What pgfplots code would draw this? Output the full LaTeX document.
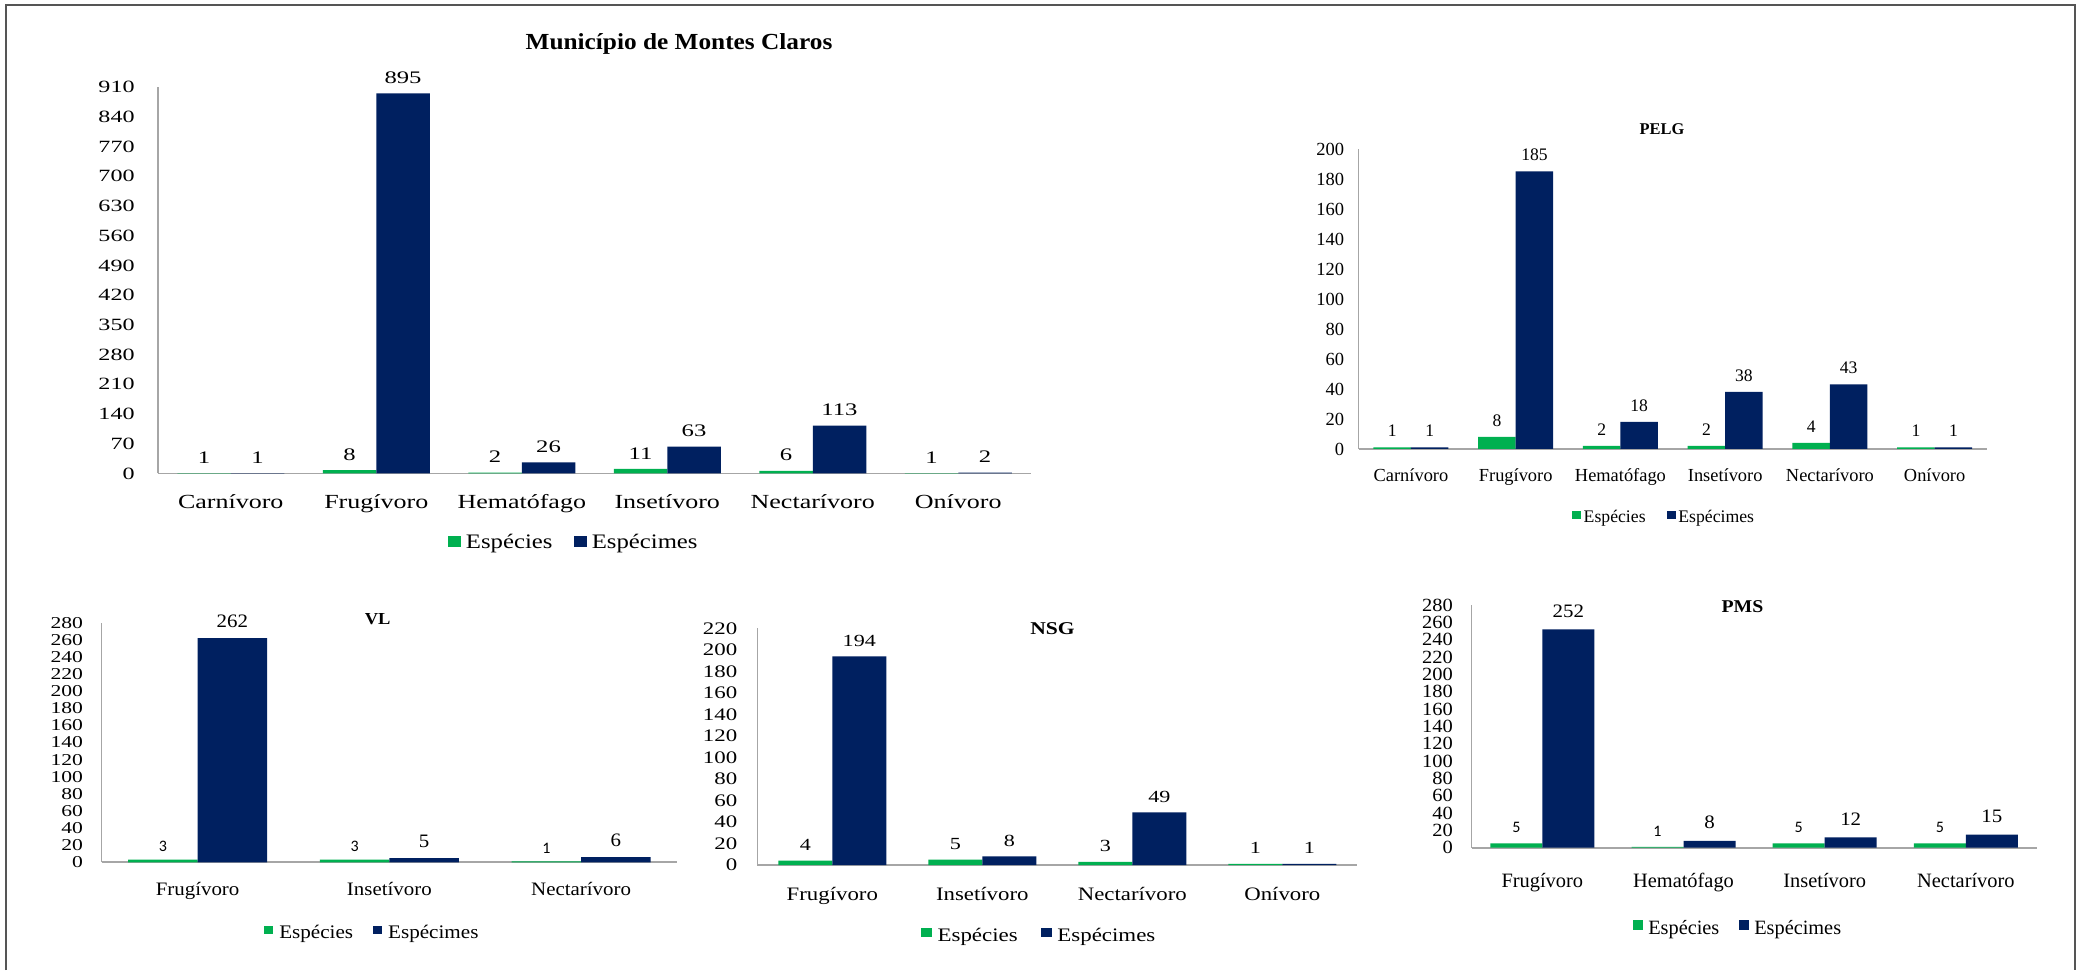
\documentclass[border=0pt]{standalone}
\usepackage{fontspec}
\setmainfont{Liberation Serif}
\newfontfamily\sB{Liberation Serif}[FakeStretch=1.1]
\newfontfamily\sC{Liberation Serif}[FakeStretch=1.2]
\newfontfamily\sD{Liberation Serif}[FakeStretch=1.3]
\newfontfamily\sE{Liberation Serif}[FakeStretch=1.4]
\newfontfamily\calib{Carlito}
\usepackage{pgfplots}
\pgfplotsset{compat=1.18}

\definecolor{cgreen}{HTML}{00B050}
\definecolor{cblue}{HTML}{002060}
\definecolor{axisgray}{HTML}{A6A6A6}
\definecolor{framegray}{HTML}{555555}

% font family + size in one go
\newcommand\fs[2]{#1\fontsize{#2}{#2}\selectfont}

\pgfplotsset{
  panel/.style={
    scale only axis, anchor=south west,
    ybar=0pt, ymin=0, enlargelimits=false, clip=false,
    axis lines*=left, axis line style={-},
    x axis line style={draw=axisgray, line width=0.9pt},
    y axis line style={draw=axisgray, line width=0.6pt},
    major tick length=0pt,
    /pgf/number format/assume math mode=true,
    yticklabel style={anchor=east, inner sep=0pt},
    xticklabel style={anchor=base, inner sep=0pt},
    nodes near coords,
    every node near coord/.append style={anchor=south, inner sep=0pt},
    legend columns=2,
    legend cell align=left,
    legend style={draw=none, fill=none, inner sep=0pt, outer sep=0pt,
      anchor=west, nodes={inner sep=0pt, text height=8pt, text depth=2pt}},
  },
  spc/.style={fill=cgreen, draw=none},
  spm/.style={fill=cblue, draw=none},
  % square legend key: bottom, width, top
  sq/.style n args={3}{legend image code/.code={\fill[##1] (0pt,#1) rectangle (#2,#3);}},
}

\begin{document}
\begin{tikzpicture}
\useasboundingbox (0,0) rectangle (1039pt,485pt);
\fill[white] (0,0) rectangle (1039pt,485pt);
\draw[framegray, line width=1pt] (2.8pt,0pt) -- (2.8pt,482.25pt) -- (1037.5pt,482.25pt) -- (1037.5pt,0pt);

% ---------------- Município de Montes Claros ----------------
\node[font=\fs\sB{11.5}\bfseries, anchor=base] at (339.5pt,460.35pt) {Município de Montes Claros};
\begin{axis}[panel, at={(79pt,248.25pt)}, width=436.5pt, height=193.25pt,
  xmin=-0.5, xmax=5.5, ymax=910, ytick={0,70,...,910},
  xtick={0,...,5},
  xticklabels={Carnívoro,Frugívoro,Hematófago,Insetívoro,Nectarívoro,Onívoro},
  bar width=26.75pt,
  yticklabel style={font=\fs\sE{8.6}, xshift=-11.5pt},
  xticklabel style={font=\fs\sD{10}, yshift=-17.5pt},
  every node near coord/.append style={font=\fs\sE{8.8}, yshift=4.7pt},
  legend style={at={(0.3325,-0.178)}, font=\fs\sC{10.3},
    /tikz/every odd column/.append style={column sep=2.5pt},
    /tikz/every even column/.append style={column sep=10.85pt}},
  sq={-2.2pt}{6.35pt}{3.15pt}]
\addplot[spc] coordinates {(0,1) (1,8) (2,2) (3,11) (4,6) (5,1)};
\addplot[spm] coordinates {(0,1) (1,895) (2,26) (3,63) (4,113) (5,2)};
\legend{Espécies,Espécimes}
\end{axis}

% ---------------- PELG ----------------
\node[font=\fs\rmfamily{8.2}\bfseries, anchor=base] at (831pt,417.85pt) {PELG};
\begin{axis}[panel, at={(679.3pt,260.5pt)}, width=314.2pt, height=150pt,
  xmin=-0.5, xmax=5.5, ymax=200, ytick={0,20,...,200},
  xtick={0,...,5},
  xticklabels={Carnívoro,Frugívoro,Hematófago,Insetívoro,Nectarívoro,Onívoro},
  bar width=18.75pt,
  yticklabel style={font=\fs\rmfamily{9.25}, xshift=-7pt},
  xticklabel style={font=\fs\rmfamily{9.2}, yshift=-16.3pt},
  every node near coord/.append style={font=\fs\rmfamily{8.8}, yshift=5.2pt},
  legend style={at={(0.3396,-0.2257)}, font=\fs\rmfamily{8.85},
    /tikz/every odd column/.append style={column sep=1.35pt},
    /tikz/every even column/.append style={column sep=10.5pt}},
  sq={-1.3pt}{4.5pt}{2.85pt}]
\addplot[spc] coordinates {(0,1) (1,8) (2,2) (3,2) (4,4) (5,1)};
\addplot[spm] coordinates {(0,1) (1,185) (2,18) (3,38) (4,43) (5,1)};
\legend{Espécies,Espécimes}
\end{axis}

% ---------------- VL ----------------
\node[font=\fs\sB{8.4}\bfseries, anchor=base] at (188.85pt,172.5pt) {VL};
\begin{axis}[panel, at={(50.85pt,53.85pt)}, width=287.65pt, height=119.8pt,
  xmin=-0.5, xmax=2.5, ymax=280, ytick={0,20,...,280},
  xtick={0,...,2},
  xticklabels={Frugívoro,Insetívoro,Nectarívoro},
  bar width=34.75pt,
  yticklabel style={font=\fs\sD{8.3}, xshift=-9.2pt},
  xticklabel style={font=\fs\sB{9.5}, yshift=-16.8pt},
  every node near coord/.append style={font=\fs\sB{9.5}, yshift=4.85pt},
  legend style={at={(0.2826,-0.2909)}, font=\fs\sB{9.6},
    /tikz/every odd column/.append style={column sep=3pt},
    /tikz/every even column/.append style={column sep=10pt}},
  sq={-1pt}{4.5pt}{3.15pt}]
\addplot[spc, every node near coord/.append style={font=\fs\calib{8}, yshift=-0.85pt}]
  coordinates {(0,3) (1,3) (2,1)};
\addplot[spm] coordinates {(0,262) (1,5) (2,6)};
\legend{Espécies,Espécimes}
\end{axis}

% ---------------- NSG ----------------
\node[font=\fs\sC{9}\bfseries, anchor=base] at (526.25pt,167.85pt) {NSG};
\begin{axis}[panel, at={(378.65pt,52.5pt)}, width=300pt, height=118.35pt,
  xmin=-0.5, xmax=3.5, ymax=220, ytick={0,20,...,220},
  xtick={0,...,3},
  xticklabels={Frugívoro,Insetívoro,Nectarívoro,Onívoro},
  bar width=27pt,
  yticklabel style={font=\fs\sD{8.8}, xshift=-9.8pt},
  xticklabel style={font=\fs\sC{9.5}, yshift=-17.5pt},
  every node near coord/.append style={font=\fs\sD{8.5}, yshift=4.85pt},
  legend style={at={(0.2728,-0.2987)}, font=\fs\sC{9.55},
    /tikz/every odd column/.append style={column sep=2.65pt},
    /tikz/every even column/.append style={column sep=11.5pt}},
  sq={-0.8pt}{5.65pt}{3.7pt}]
\addplot[spc] coordinates {(0,4) (1,5) (2,3) (3,1)};
\addplot[spm] coordinates {(0,194) (1,8) (2,49) (3,1)};
\legend{Espécies,Espécimes}
\end{axis}

% ---------------- PMS ----------------
\node[font=\fs\sB{9}\bfseries, anchor=base] at (871.25pt,178.65pt) {PMS};
\begin{axis}[panel, at={(735.85pt,61.15pt)}, width=282.4pt, height=121.35pt,
  xmin=-0.5, xmax=3.5, ymax=280, ytick={0,20,...,280},
  xtick={0,...,3},
  xticklabels={Frugívoro,Hematófago,Insetívoro,Nectarívoro},
  bar width=26pt,
  yticklabel style={font=\fs\sB{9.3}, xshift=-9.2pt},
  xticklabel style={font=\fs\rmfamily{10.2}, yshift=-19.8pt},
  every node near coord/.append style={font=\fs\sB{9.5}, yshift=5.8pt},
  legend style={at={(0.2861,-0.3321)}, font=\fs\rmfamily{10.15},
    /tikz/every odd column/.append style={column sep=2.5pt},
    /tikz/every even column/.append style={column sep=10pt}},
  sq={-0.8pt}{5pt}{4.2pt}]
\addplot[spc, every node near coord/.append style={font=\fs\calib{8}, yshift=-0.8pt}]
  coordinates {(0,5) (1,1) (2,5) (3,5)};
\addplot[spm] coordinates {(0,252) (1,8) (2,12) (3,15)};
\legend{Espécies,Espécimes}
\end{axis}
\end{tikzpicture}
\end{document}
